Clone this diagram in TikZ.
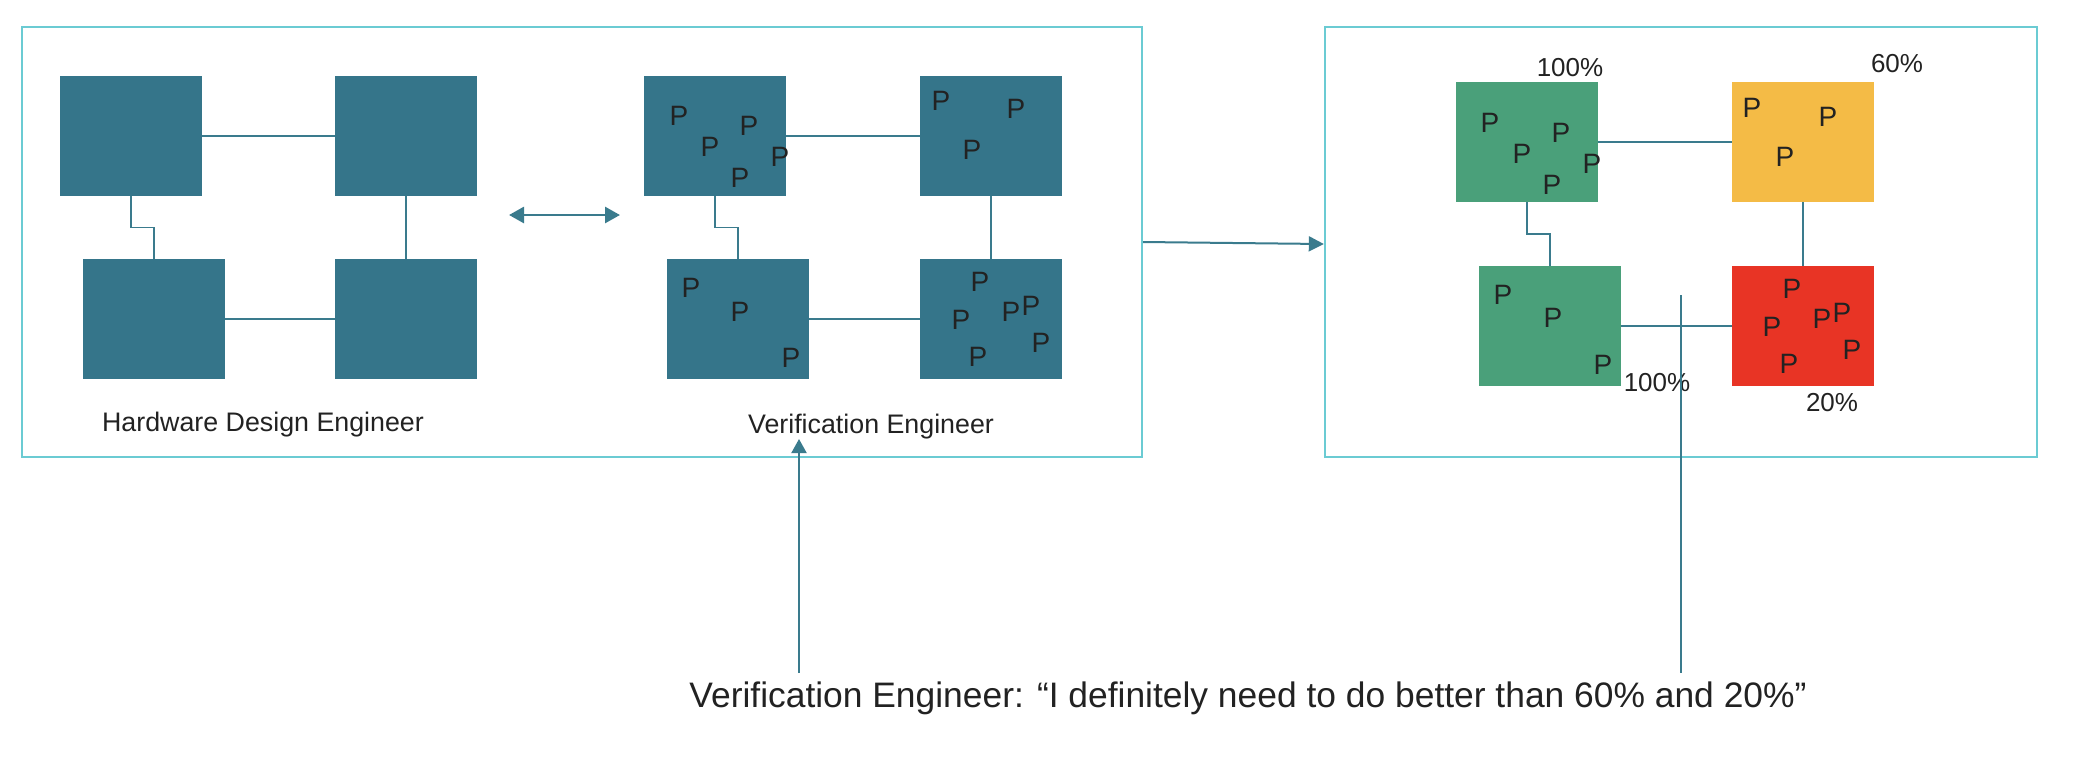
\documentclass[tikz,border=0pt]{standalone}
\usepackage{fontspec}
\setmainfont{Liberation Sans}
\usetikzlibrary{arrows.meta,calc}
\definecolor{boxteal}{HTML}{35758A}
\definecolor{framecyan}{HTML}{6BCBD3}
\definecolor{linecol}{HTML}{3A7B8D}
\definecolor{gboxc}{HTML}{4AA07A}
\definecolor{yboxc}{HTML}{F4BB46}
\definecolor{rboxc}{HTML}{E83425}
\definecolor{txt}{HTML}{222222}
\begin{document}
\begin{tikzpicture}[x=0.5pt,y=-0.5pt,
  blk/.style={rectangle, draw=none, minimum width=71pt, minimum height=60pt, inner sep=0},
  frm/.style={draw=framecyan, line width=1.2pt, rectangle, inner sep=0, minimum height=215pt},
  conn/.style={draw=linecol, line width=0.6pt},
  pl/.style={font=\fontsize{14}{16}\selectfont, text=txt, inner sep=0},
  lab/.style={font=\fontsize{13.4}{16}\selectfont, text=txt, inner sep=0},
  pct/.style={font=\fontsize{13}{16}\selectfont, text=txt, inner sep=0},
]
\useasboundingbox (0,0) rectangle (2094,762);

% frames
\node[frm, minimum width=560pt] (lf) at (582,242) {};
\node[frm, minimum width=356pt] (rf) at (1681,242) {};

% hardware boxes
\node[blk, fill=boxteal] (h1) at (131,136) {};
\node[blk, fill=boxteal] (h2) at (406,136) {};
\node[blk, fill=boxteal] (h3) at (154,319) {};
\node[blk, fill=boxteal] (h4) at (406,319) {};
\draw[conn] (h1) -- (h2);
\draw[conn] (h2) -- (h4);
\draw[conn] (h3) -- (h4);
\draw[conn] (h1.south) |- ($(h1.south)!0.5!(h3.north)$) -| (h3.north);

% verification boxes
\node[blk, fill=boxteal] (v1) at (715,136) {};
\node[blk, fill=boxteal] (v2) at (991,136) {};
\node[blk, fill=boxteal] (v3) at (738,319) {};
\node[blk, fill=boxteal] (v4) at (991,319) {};
\draw[conn] (v1) -- (v2);
\draw[conn] (v2) -- (v4);
\draw[conn] (v3) -- (v4);
\draw[conn] (v1.south) |- ($(v1.south)!0.5!(v3.north)$) -| (v3.north);

% coverage boxes
\node[blk, fill=gboxc] (g1) at (1527,142) {};
\node[blk, fill=yboxc] (g2) at (1803,142) {};
\node[blk, fill=gboxc] (g3) at (1550,326) {};
\node[blk, fill=rboxc] (g4) at (1803,326) {};
\draw[conn] (g1) -- (g2);
\draw[conn] (g2) -- (g4);
\draw[conn] (g3) -- (g4);
\draw[conn] (g1.south) |- ($(g1.south)!0.5!(g3.north)$) -| (g3.north);

% P markers
\foreach \x/\y [count=\i] in {679/116,749/126,710/147,780/157,740/178,
  941/101,1016/109,972/150,
  691/288,740/312,791/358,
  980/282,961/320,1011/312,1031/306,1041/343,978/357,
  1490/123,1561/133,1522/154,1592/164,1552/185,
  1752/108,1828/117,1785/157,
  1503/295,1553/318,1603/365,
  1792/289,1772/327,1822/319,1842/313,1852/350,1789/364}
  \node[pl] (p\i) at (\x,\y) {P};

% percent labels
\node[pct] (c1) at (1570,68) {100\%};
\node[pct] (c2) at (1897,64) {60\%};
\node[pct] (c3) at (1657,383) {100\%};
\node[pct] (c4) at (1832,403) {20\%};

% labels
\node[lab] (hwl) at (263,425) {Hardware Design Engineer};
\node[lab] (vel) at (871,427) {Verification Engineer};
\node[font=\fontsize{17.7}{20}\selectfont, text=txt, inner sep=0] (bt) at (1248,698)
  {Verification Engineer: “I definitely need to do better than 60\% and 20\%”};

% double arrow
\coordinate (da1) at (509,215);
\coordinate (da2) at (620,215);
\draw[linecol, line width=1.4pt, {Triangle[length=7.5pt,width=8pt]}-{Triangle[length=7.5pt,width=8pt]}] (da1) -- (da2);

% frame to frame arrow
\draw[linecol, line width=1pt, -{Triangle[length=7.5pt,width=7.5pt]}] (lf.east) -- ([yshift=-1pt]rf.west);

% arrow up to verification label
\coordinate (ua0) at (799,673);
\coordinate (ua1) at (799,439);
\draw[linecol, line width=1pt, -{Triangle[length=7pt,width=7.5pt]}] (ua0) -- (ua1);

% vertical line in right frame
\coordinate (vl0) at (1681,295);
\coordinate (vl1) at (1681,673);
\draw[conn] (vl0) -- (vl1);
\end{tikzpicture}
\end{document}
